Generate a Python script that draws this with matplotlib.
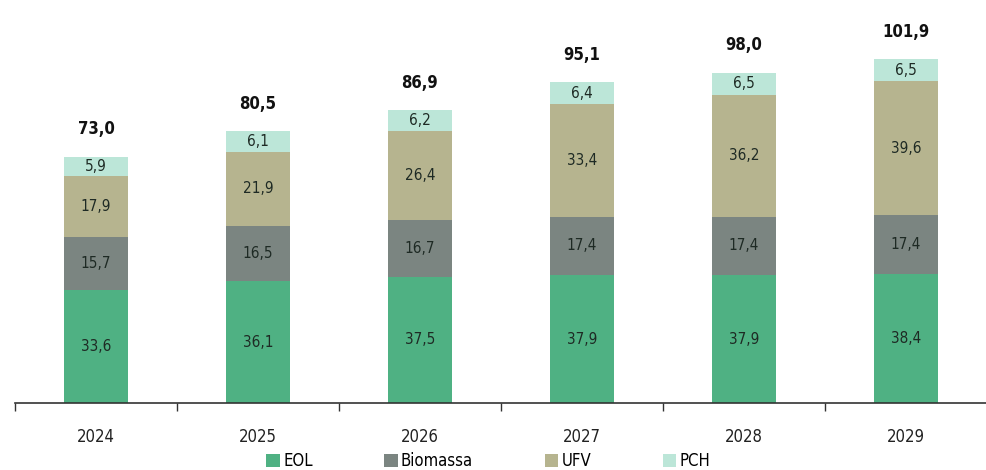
import matplotlib
matplotlib.use("Agg")
import matplotlib.pyplot as plt
import numpy as np

years = ["2024", "2025", "2026", "2027", "2028", "2029"]
eol = [33.6, 36.1, 37.5, 37.9, 37.9, 38.4]
biomassa = [15.7, 16.5, 16.7, 17.4, 17.4, 17.4]
ufv = [17.9, 21.9, 26.4, 33.4, 36.2, 39.6]
pch = [5.9, 6.1, 6.2, 6.4, 6.5, 6.5]
totals = [73.0, 80.5, 86.9, 95.1, 98.0, 101.9]

series = [("EOL", eol, "#4fb183"), ("Biomassa", biomassa, "#7b8581"),
          ("UFV", ufv, "#b6b48f"), ("PCH", pch, "#bce6d8")]

plt.rcParams['font.family'] = ['DejaVu Sans']
plt.rcParams['font.stretch'] = 'condensed'

fig = plt.figure(figsize=(9.87, 4.70), dpi=100)
ax = fig.add_axes([15/987, 1-403/470, 1-15/987, 383/470])

x = np.arange(len(years))
bottom = np.zeros(len(years))
for name, vals, col in series:
    ax.bar(x, vals, width=0.4, bottom=bottom, color=col, label=name)
    for xi, b, v in zip(x, bottom, vals):
        ax.text(xi, b + v/2, f"{v:.1f}".replace(".", ","), ha="center", va="center",
                fontsize=11, color="#1e2a24")
    bottom += np.array(vals)

for xi, b, t in zip(x, bottom, totals):
    ax.text(xi, b + 5.5, f"{t:.1f}".replace(".", ","), ha="center", va="bottom",
            fontsize=12, fontweight="bold", color="#111111")

ax.set_xlim(-0.5, 5.5)
ax.set_ylim(0, 113.6)
for s in ["top", "right", "left"]:
    ax.spines[s].set_visible(False)
ax.spines["bottom"].set_color("#333333")
ax.spines["bottom"].set_linewidth(1.2)
ax.set_yticks([])
ax.set_xticks(np.arange(-0.5, 5.6, 1.0))
ax.set_xticklabels([])
ax.set_xticks(x, minor=True)
ax.set_xticklabels(years, minor=True, fontsize=12, color="#222222")
ax.tick_params(axis="x", which="major", length=6, width=1, color="#333333", direction="out")
ax.tick_params(axis="x", which="minor", length=0, pad=18)

ax.legend(loc="center", bbox_to_anchor=(0.487, -0.152), ncol=4, frameon=False,
          fontsize=12, handlelength=0.8, handleheight=0.9, handletextpad=0.2,
          columnspacing=4.3, borderaxespad=0, borderpad=0)

fig.savefig("out.png", dpi=100)
